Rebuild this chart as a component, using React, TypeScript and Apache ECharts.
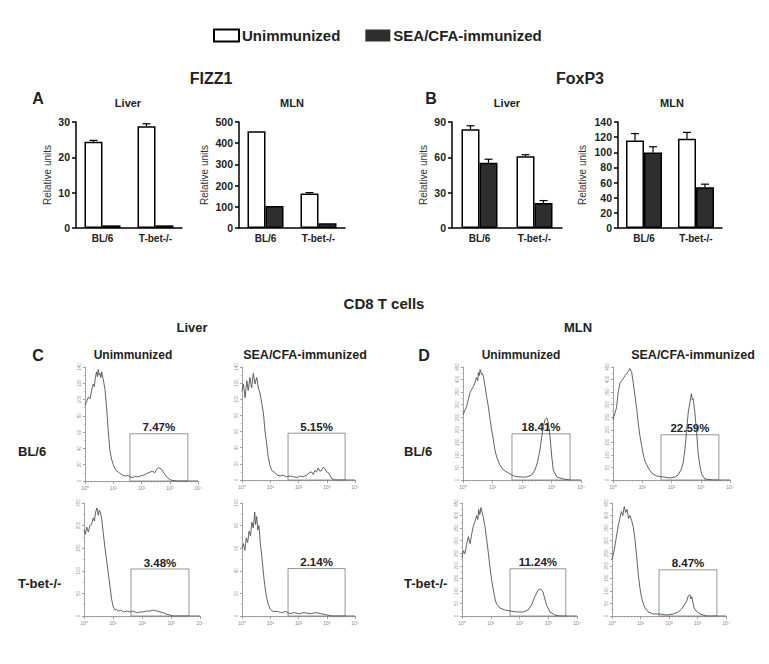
import React, { useEffect, useRef } from 'react';
import * as echarts from 'echarts';

const FONT = '"Liberation Sans", Arial, Helvetica, sans-serif';

// ---------- Bar data (panels A and B) ----------
const barCategories = ['BL/6', 'T-bet-/-'];
const legendNames = ['Unimmunized', 'SEA/CFA-immunized'];

const fizzLiverUnimm = [24.4, 28.8];
const fizzLiverUnimmErr = [0.4, 0.7];
const fizzLiverImm = [0.75, 0.75];
const fizzLiverImmErr = [0, 0];

const fizzMlnUnimm = [456, 163];
const fizzMlnUnimmErr = [0, 4];
const fizzMlnImm = [104, 22];
const fizzMlnImmErr = [0, 0];

const foxLiverUnimm = [83.8, 61];
const foxLiverUnimmErr = [3, 1.2];
const foxLiverImm = [55.4, 21.3];
const foxLiverImmErr = [3, 2];

const foxMlnUnimm = [115.7, 117.9];
const foxMlnUnimmErr = [9, 8.4];
const foxMlnImm = [99.8, 53.9];
const foxMlnImmErr = [7.5, 4];

// ---------- Flow histograms (panels C and D), x = log10 decade, y = counts ----------
const cLiverUnimmBl6: [number, number][] = [
  [0, 93], [0.06, 98], [0.12, 103], [0.18, 101], [0.24, 112], [0.29, 119], [0.33, 116], [0.37, 128], [0.41, 134],
  [0.44, 128], [0.47, 137], [0.5, 130], [0.53, 132], [0.56, 127], [0.59, 134], [0.65, 124], [0.71, 112], [0.77, 87],
  [0.82, 63], [0.88, 38], [0.94, 27], [1.0, 20], [1.06, 15], [1.12, 12], [1.18, 11], [1.25, 9], [1.35, 7], [1.45, 6],
  [1.52, 7], [1.59, 5], [1.7, 4], [1.76, 6], [1.83, 5], [1.95, 6], [2.06, 7], [2.18, 9], [2.3, 11], [2.4, 12],
  [2.47, 10], [2.53, 14], [2.6, 16], [2.65, 16], [2.72, 14], [2.77, 11], [2.89, 5], [3.0, 2], [3.06, 1], [3.24, 0], [4, 0],
];
const cLiverImmBl6: [number, number][] = [
  [0, 111], [0.05, 119], [0.11, 102], [0.17, 123], [0.22, 111], [0.28, 127], [0.34, 114], [0.4, 132], [0.46, 119],
  [0.52, 127], [0.58, 114], [0.64, 107], [0.7, 95], [0.76, 82], [0.81, 62], [0.87, 46], [0.93, 28], [0.99, 18],
  [1.05, 12], [1.17, 9], [1.25, 6], [1.35, 5], [1.45, 6], [1.58, 4], [1.7, 5], [1.82, 4], [1.95, 3], [2.05, 5],
  [2.15, 4], [2.29, 6], [2.38, 9], [2.46, 10], [2.52, 7], [2.58, 12], [2.64, 10], [2.7, 15], [2.76, 11], [2.82, 12],
  [2.88, 16], [2.93, 14], [3.0, 10], [3.06, 9], [3.17, 2], [3.29, 0], [4, 0],
];
const cLiverUnimmTbet: [number, number][] = [
  [0, 190], [0.05, 181], [0.09, 197], [0.15, 186], [0.21, 201], [0.26, 203], [0.32, 217], [0.36, 210], [0.4, 230],
  [0.45, 239], [0.49, 223], [0.53, 234], [0.57, 228], [0.61, 214], [0.67, 181], [0.72, 152], [0.78, 124], [0.84, 93],
  [0.9, 64], [0.95, 38], [1.01, 20], [1.07, 13], [1.12, 15], [1.18, 11], [1.27, 13], [1.36, 9], [1.47, 11], [1.59, 9],
  [1.7, 11], [1.82, 7], [1.93, 9], [2.05, 9], [2.16, 11], [2.28, 11], [2.4, 13], [2.51, 11], [2.62, 9], [2.74, 7],
  [2.85, 4], [2.97, 2], [3.08, 0], [4, 0],
];
const cLiverImmTbet: [number, number][] = [
  [0, 60], [0.05, 64], [0.1, 58], [0.15, 69], [0.2, 65], [0.25, 75], [0.3, 71], [0.35, 83], [0.4, 78], [0.45, 92],
  [0.48, 81], [0.52, 88], [0.56, 76], [0.6, 80], [0.65, 64], [0.7, 53], [0.75, 40], [0.8, 28], [0.86, 18], [0.92, 11],
  [1.0, 6], [1.1, 4], [1.25, 4], [1.4, 3], [1.55, 4], [1.7, 2], [1.85, 3], [2.0, 2], [2.2, 3], [2.4, 2], [2.6, 3],
  [2.8, 2], [3.0, 1], [3.2, 0], [4, 0],
];
const dMlnUnimmBl6: [number, number][] = [
  [0, 260], [0.06, 276], [0.12, 292], [0.18, 320], [0.24, 348], [0.29, 360], [0.35, 372], [0.41, 388], [0.46, 408],
  [0.5, 396], [0.52, 428], [0.55, 416], [0.58, 440], [0.63, 420], [0.66, 424], [0.69, 412], [0.75, 372], [0.8, 332],
  [0.86, 292], [0.92, 240], [0.97, 200], [1.03, 160], [1.08, 120], [1.14, 92], [1.25, 60], [1.37, 40], [1.54, 28],
  [1.71, 16], [1.93, 12], [2.16, 12], [2.33, 20], [2.44, 40], [2.52, 68], [2.61, 120], [2.67, 172], [2.72, 212],
  [2.78, 240], [2.84, 248], [2.89, 228], [2.95, 172], [3.01, 92], [3.06, 40], [3.18, 12], [3.4, 4], [3.63, 0], [4, 0],
];
const dMlnImmBl6: [number, number][] = [
  [0, 240], [0.06, 264], [0.12, 288], [0.18, 352], [0.24, 388], [0.3, 396], [0.35, 404], [0.41, 416], [0.47, 424],
  [0.52, 432], [0.58, 444], [0.64, 428], [0.69, 388], [0.75, 336], [0.81, 284], [0.86, 228], [0.92, 176], [0.98, 136],
  [1.03, 104], [1.09, 76], [1.21, 48], [1.32, 28], [1.49, 16], [1.72, 12], [1.95, 8], [2.12, 12], [2.23, 20],
  [2.34, 44], [2.4, 68], [2.46, 124], [2.51, 188], [2.57, 268], [2.63, 308], [2.68, 344], [2.71, 320], [2.74, 324],
  [2.8, 268], [2.86, 188], [2.91, 108], [2.97, 56], [3.03, 24], [3.14, 4], [3.42, 0], [4, 0],
];
const dMlnUnimmTbet: [number, number][] = [
  [0, 232], [0.05, 260], [0.1, 248], [0.16, 284], [0.22, 316], [0.28, 288], [0.34, 328], [0.39, 356], [0.45, 376],
  [0.51, 400], [0.55, 384], [0.58, 424], [0.62, 404], [0.66, 432], [0.7, 412], [0.74, 392], [0.8, 356], [0.86, 304],
  [0.92, 248], [0.97, 196], [1.03, 144], [1.09, 104], [1.15, 68], [1.2, 48], [1.32, 32], [1.49, 24], [1.67, 20],
  [1.9, 16], [2.13, 16], [2.3, 24], [2.42, 44], [2.53, 76], [2.65, 104], [2.73, 108], [2.82, 96], [2.88, 68],
  [2.94, 44], [3.06, 16], [3.23, 4], [3.4, 0], [4, 0],
];
const dMlnImmTbet: [number, number][] = [
  [0, 224], [0.08, 264], [0.15, 312], [0.22, 360], [0.28, 392], [0.33, 416], [0.38, 400], [0.43, 436], [0.48, 412],
  [0.53, 424], [0.58, 388], [0.63, 400], [0.69, 380], [0.75, 352], [0.81, 300], [0.87, 232], [0.92, 168], [0.98, 112],
  [1.04, 72], [1.1, 48], [1.16, 32], [1.27, 16], [1.45, 8], [1.68, 8], [1.92, 4], [2.15, 8], [2.33, 16], [2.44, 28],
  [2.56, 48], [2.62, 60], [2.68, 80], [2.74, 84], [2.77, 68], [2.8, 76], [2.83, 60], [2.88, 32], [2.95, 20],
  [3.09, 8], [3.32, 0], [4, 0],
];

// gates: [start decade, end decade, top count]
const gateCLiverUnimmBl6 = [1.59, 3.64, 58];
const gateCLiverImmBl6 = [1.63, 3.65, 58];
const gateCLiverUnimmTbet = [1.62, 3.62, 104];
const gateCLiverImmTbet = [1.63, 3.65, 42];
const gateDMlnUnimmBl6 = [1.66, 3.63, 184];
const gateDMlnImmBl6 = [1.64, 3.62, 180];
const gateDMlnUnimmTbet = [1.67, 3.61, 188];
const gateDMlnImmTbet = [1.65, 3.68, 184];

const histPercents = ['7.47%', '5.15%', '3.48%', '2.14%', '18.41%', '22.59%', '11.24%', '8.47%'];
const histYMax = [140, 140, 250, 100, 450, 450, 450, 450];
const histYInterval = [20, 20, 50, 20, 50, 50, 50, 50];
const decadeLabels = ['10⁰', '10¹', '10²', '10³', '10⁴'];

export default function App() {
  const ref = useRef<HTMLDivElement>(null);

  useEffect(() => {
    if (!ref.current) return;
    const chart = echarts.init(ref.current, null, { renderer: 'svg' });

    const barPanels = [
      { grid: { left: 76, top: 122, width: 106, height: 106 }, max: 30, interval: 10, u: fizzLiverUnimm, ue: fizzLiverUnimmErr, m: fizzLiverImm, me: fizzLiverImmErr, nameGap: 24 },
      { grid: { left: 239, top: 122, width: 106, height: 106 }, max: 500, interval: 100, u: fizzMlnUnimm, ue: fizzMlnUnimmErr, m: fizzMlnImm, me: fizzMlnImmErr, nameGap: 30 },
      { grid: { left: 452, top: 122, width: 110, height: 106 }, max: 90, interval: 30, u: foxLiverUnimm, ue: foxLiverUnimmErr, m: foxLiverImm, me: foxLiverImmErr, nameGap: 24 },
      { grid: { left: 618, top: 122, width: 104, height: 106 }, max: 140, interval: 20, u: foxMlnUnimm, ue: foxMlnUnimmErr, m: foxMlnImm, me: foxMlnImmErr, nameGap: 31 },
    ];

    const histPanels = [
      { grid: { left: 85, top: 367, width: 113, height: 114 }, data: cLiverUnimmBl6, gate: gateCLiverUnimmBl6 },
      { grid: { left: 242, top: 367, width: 113, height: 113 }, data: cLiverImmBl6, gate: gateCLiverImmBl6 },
      { grid: { left: 84, top: 503, width: 116, height: 113 }, data: cLiverUnimmTbet, gate: gateCLiverUnimmTbet },
      { grid: { left: 242, top: 503, width: 113, height: 113 }, data: cLiverImmTbet, gate: gateCLiverImmTbet },
      { grid: { left: 463, top: 367, width: 118, height: 113 }, data: dMlnUnimmBl6, gate: gateDMlnUnimmBl6 },
      { grid: { left: 613, top: 367, width: 117, height: 113 }, data: dMlnImmBl6, gate: gateDMlnImmBl6 },
      { grid: { left: 462, top: 503, width: 115, height: 113 }, data: dMlnUnimmTbet, gate: gateDMlnUnimmTbet },
      { grid: { left: 612, top: 503, width: 114, height: 113 }, data: dMlnImmTbet, gate: gateDMlnImmTbet },
    ];

    const grids: any[] = [];
    const xAxes: any[] = [];
    const yAxes: any[] = [];
    const series: any[] = [];

    barPanels.forEach((p, i) => {
      grids.push({ ...p.grid });
      xAxes.push({
        type: 'category', gridIndex: i, data: barCategories,
        axisLine: { lineStyle: { color: '#000', width: 1.5 } },
        axisTick: { show: false },
        axisLabel: { fontFamily: FONT, fontWeight: 'bold', fontSize: 10, color: '#222', margin: 5 },
      });
      yAxes.push({
        type: 'value', gridIndex: i, min: 0, max: p.max, interval: p.interval,
        axisLine: { show: true, lineStyle: { color: '#000', width: 1.5 } },
        axisTick: { show: true, length: 4, lineStyle: { color: '#000', width: 1.5 } },
        axisLabel: { fontFamily: FONT, fontWeight: 'bold', fontSize: 10.5, color: '#222', margin: 6 },
        splitLine: { show: false },
        name: 'Relative units', nameLocation: 'middle', nameRotate: 90, nameGap: p.nameGap,
        nameTextStyle: { fontFamily: FONT, fontSize: 10, color: '#333' },
      });
      series.push({
        type: 'bar', name: legendNames[0], xAxisIndex: i, yAxisIndex: i, data: p.u,
        barWidth: 18, barGap: '0%',
        itemStyle: { color: '#fff', borderColor: '#000', borderWidth: 1.5 },
      });
      series.push({
        type: 'bar', name: legendNames[1], xAxisIndex: i, yAxisIndex: i, data: p.m,
        barWidth: 18, barGap: '0%',
        itemStyle: { color: '#2e2e2e', borderColor: '#000', borderWidth: 1.5 },
      });
      series.push({
        type: 'custom', xAxisIndex: i, yAxisIndex: i, silent: true, z: 5,
        data: barCategories.map((c, k) => [k, p.u[k], p.ue[k], p.m[k], p.me[k]]),
        renderItem: (params: any, api: any) => {
          const children: any[] = [];
          const sets = [[1, 2, -9], [3, 4, 9]];
          for (const [vi, ei, off] of sets) {
            const v = api.value(vi);
            const e = api.value(ei);
            if (!e) continue;
            const base = api.coord([api.value(0), v]);
            const top = api.coord([api.value(0), v + e]);
            const x = base[0] + off;
            children.push({ type: 'line', shape: { x1: x, y1: base[1], x2: x, y2: top[1] }, style: { stroke: '#000', lineWidth: 1.2 } });
            children.push({ type: 'line', shape: { x1: x - 4, y1: top[1], x2: x + 4, y2: top[1] }, style: { stroke: '#000', lineWidth: 1.2 } });
          }
          return { type: 'group', children };
        },
      });
    });

    histPanels.forEach((p, j) => {
      const i = barPanels.length + j;
      grids.push({ ...p.grid });
      xAxes.push({
        type: 'value', gridIndex: i, min: 0, max: 4, interval: 1,
        axisLine: { lineStyle: { color: '#8a8a8a', width: 0.8 } },
        axisTick: { show: true, length: 3, lineStyle: { color: '#8a8a8a', width: 0.8 } },
        minorTick: { show: true, splitNumber: 9, length: 1.5, lineStyle: { color: '#9a9a9a', width: 0.6 } },
        axisLabel: { fontFamily: FONT, fontSize: 5, color: '#888', margin: 4, formatter: (v: number) => decadeLabels[Math.round(v)] },
        splitLine: { show: false },
      });
      yAxes.push({
        type: 'value', gridIndex: i, min: 0, max: histYMax[j], interval: histYInterval[j],
        axisLine: { show: true, lineStyle: { color: '#8a8a8a', width: 0.8 } },
        axisTick: { show: true, length: 2, lineStyle: { color: '#8a8a8a', width: 0.8 } },
        minorTick: { show: true, splitNumber: 2, length: 1.2, lineStyle: { color: '#9a9a9a', width: 0.6 } },
        axisLabel: { fontFamily: FONT, fontSize: 4.5, color: '#999', margin: 3, rotate: 90 },
        splitLine: { show: false },
      });
      series.push({
        type: 'line', xAxisIndex: i, yAxisIndex: i, data: p.data,
        showSymbol: false, symbol: 'none',
        lineStyle: { color: '#505050', width: 0.9 },
        markArea: {
          silent: true,
          itemStyle: { color: 'rgba(0,0,0,0)', borderColor: '#7a7a7a', borderWidth: 0.8 },
          label: {
            show: true, position: 'top', distance: 0, formatter: histPercents[j],
            fontFamily: FONT, fontWeight: 'bold', fontSize: 11.5, color: '#222',
          },
          data: [[{ xAxis: p.gate[0], yAxis: 0 }, { xAxis: p.gate[1], yAxis: p.gate[2] }]],
        },
      });
    });

    const texts = [
      { t: 'FIZZ1', x: 211, y: 78, s: 16 },
      { t: 'FoxP3', x: 580, y: 78, s: 16 },
      { t: 'A', x: 38, y: 98, s: 16 },
      { t: 'B', x: 431, y: 98, s: 16 },
      { t: 'Liver', x: 128, y: 103, s: 11 },
      { t: 'MLN', x: 292, y: 103, s: 11 },
      { t: 'Liver', x: 507, y: 103, s: 11 },
      { t: 'MLN', x: 672, y: 103, s: 11 },
      { t: 'CD8 T cells', x: 384, y: 303, s: 15 },
      { t: 'Liver', x: 192, y: 327, s: 13 },
      { t: 'MLN', x: 578, y: 327, s: 13 },
      { t: 'C', x: 38, y: 355, s: 16 },
      { t: 'D', x: 424, y: 355, s: 16 },
      { t: 'Unimmunized', x: 133, y: 355, s: 12 },
      { t: 'SEA/CFA-immunized', x: 305, y: 355, s: 12.5 },
      { t: 'Unimmunized', x: 521, y: 355, s: 12 },
      { t: 'SEA/CFA-immunized', x: 693, y: 355, s: 12.5 },
      { t: 'BL/6', x: 18, y: 451, s: 13, a: 'left' },
      { t: 'T-bet-/-', x: 18, y: 583, s: 13, a: 'left' },
      { t: 'BL/6', x: 404, y: 451, s: 13, a: 'left' },
      { t: 'T-bet-/-', x: 404, y: 583, s: 13, a: 'left' },
    ];

    chart.setOption({
      animation: false,
      backgroundColor: '#fff',
      legend: {
        left: 213, top: 28, padding: 0, itemWidth: 25, itemHeight: 12, itemGap: 25, selectedMode: false,
        textStyle: { fontFamily: FONT, fontWeight: 'bold', fontSize: 15, color: '#222', padding: [0, 0, 0, -2] },
        data: [
          { name: legendNames[0], icon: 'rect', itemStyle: { color: '#fff', borderColor: '#000', borderWidth: 2 } },
          { name: legendNames[1], icon: 'rect', itemStyle: { color: '#2e2e2e', borderColor: '#2e2e2e', borderWidth: 0 } },
        ],
      },
      grid: grids,
      xAxis: xAxes,
      yAxis: yAxes,
      series,
      graphic: texts.map((d) => ({
        type: 'text', x: d.x, y: d.y, silent: true,
        style: {
          text: d.t, fill: '#222', font: `bold ${d.s}px ${FONT}`,
          textAlign: (d as any).a || 'center', textVerticalAlign: 'middle',
        },
      })),
    });

    return () => chart.dispose();
  }, []);

  return <div ref={ref} style={{ position: 'fixed', left: 0, top: 0, width: 769, height: 664 }} />;
}
